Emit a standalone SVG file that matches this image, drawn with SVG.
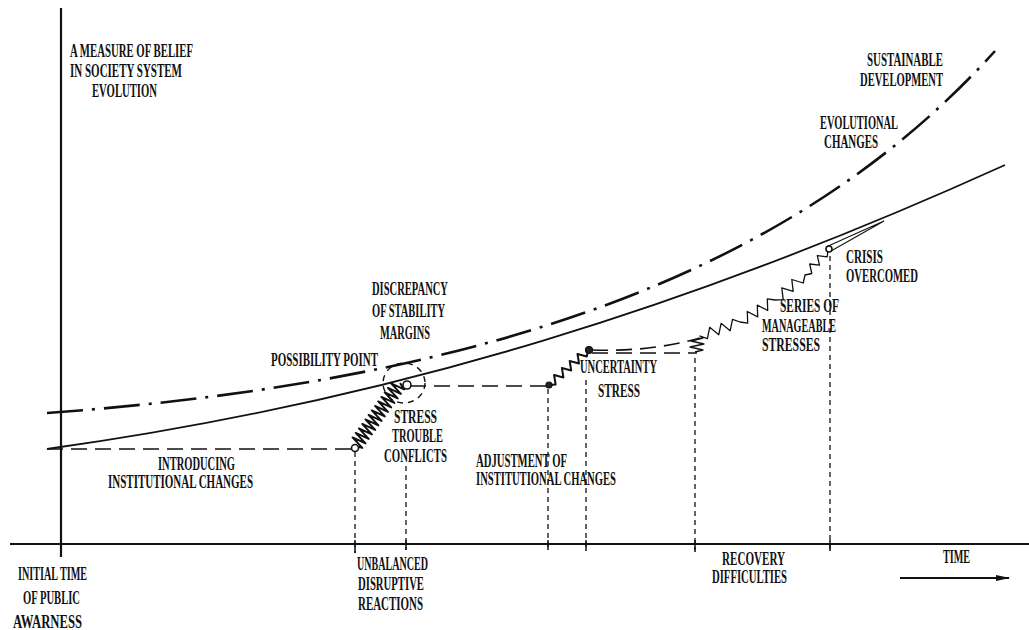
<svg xmlns="http://www.w3.org/2000/svg" width="1029" height="630" viewBox="0 0 1029 630">
<defs>
<style>
text{font-family:"Liberation Serif","DejaVu Serif",serif;font-weight:bold;font-size:18px;fill:#111;}
.ax{stroke:#111;stroke-width:2.2;fill:none;}
.solid{stroke:#111;stroke-width:1.8;fill:none;}
.dd{stroke:#111;stroke-width:2.6;fill:none;stroke-dasharray:36 9 3 9;}
.hd{stroke:#111;stroke-width:1.7;fill:none;stroke-dasharray:16 8;}
.vd{stroke:#111;stroke-width:1.3;fill:none;stroke-dasharray:5 4;}
.zz{stroke:#111;stroke-width:2;fill:none;stroke-linejoin:round;}
.zt{stroke:#111;stroke-width:1.3;fill:none;stroke-linejoin:round;}
.tick{stroke:#111;stroke-width:1.5;}
.oc{fill:#fff;stroke:#111;stroke-width:1.6;}
.fc{fill:#222;stroke:#111;stroke-width:1.2;}
</style>
<marker id="arr" markerWidth="14" markerHeight="6" refX="13" refY="3" orient="auto" markerUnits="userSpaceOnUse">
<path d="M0,0 L14,3 L0,6 Z" fill="#111"/>
</marker>
</defs>
<rect width="1029" height="630" fill="#fff"/>

<g id="axes">
<line class="ax" x1="61" y1="8" x2="61" y2="557"/>
<line class="ax" x1="10" y1="544" x2="1029" y2="544"/>
<line class="solid" x1="900" y1="578" x2="1009" y2="578" marker-end="url(#arr)"/>
</g>

<g id="curves">
<path id="evolutional-curve" class="solid" d="M47,449 C400,400 700,303 1005,165"/>
<path id="sustainable-curve" class="dd" d="M47,413 C500,380 800,267 995,51"/>
</g>

<g id="connectors">
<line class="hd" x1="47" y1="449" x2="352" y2="449"/>
<line class="hd" x1="410" y1="386" x2="546" y2="386" stroke-dasharray="14 7"/>
<path class="hd" d="M592,350 Q650,352 700,338" stroke-dasharray="9 6"/>
<line class="hd" x1="592" y1="353" x2="697" y2="353" stroke-dasharray="12 6"/>
<ellipse cx="404" cy="383" rx="21" ry="20" fill="none" stroke="#111" stroke-width="1.4" stroke-dasharray="6 5"/>
<line class="vd" x1="355" y1="452" x2="355" y2="553"/>
<line class="vd" x1="406" y1="466" x2="406" y2="550"/>
<line class="vd" x1="548" y1="389" x2="548" y2="550"/>
<line class="vd" x1="586" y1="380" x2="586" y2="550"/>
<line class="vd" x1="695" y1="358" x2="695" y2="550"/>
<line class="vd" x1="830" y1="256" x2="830" y2="550"/>
<line class="tick" x1="355" y1="540" x2="355" y2="553"/>
<line class="tick" x1="406" y1="540" x2="406" y2="550"/>
<line class="tick" x1="548" y1="540" x2="548" y2="550"/>
<line class="tick" x1="586" y1="540" x2="586" y2="551"/>
<line class="tick" x1="695" y1="540" x2="695" y2="552"/>
<line class="tick" x1="830" y1="540" x2="830" y2="551"/>
<polyline class="zz" points="355,446 362.3,447.9 352.5,437.4 365.5,443.4 355.7,432.9 368.7,438.9 358.9,428.4 371.9,434.4 362.2,423.9 375.2,429.9 365.4,419.4 378.4,425.4 368.6,414.9 381.6,420.9 371.8,410.4 384.8,416.4 375,405.9 388,411.9 378.2,401.4 391.2,407.4 381.4,396.9 394.4,402.9 384.7,392.4 397.7,398.4 387.9,387.9 400.9,393.9 391.1,383.4 404.1,389.4 400,383"/>
<polyline class="zz" points="549,385 555.6,384.5 554.1,375 563.4,377.5 561.9,368 571.2,370.5 569.7,361 579,363.5 577.5,354 586.8,356.5 588,350"/>
<polyline class="zt" points="695,352 703,350 690,347 704,344 691,341 703,338 700,336 707.4,338.7 709.7,327.3 718.8,334.7 721.1,323.3 730.2,330.7 732.5,319.3 740,322 747.7,323.1 747.3,311.5 757.7,316.8 757.3,305.2 767.7,310.5 767.3,298.9 775,300 783.2,299.6 781.8,287.9 793.2,291.3 791.8,279.5 803.2,283 805,275 811.8,273.5 809.7,264 819.5,265.2 817.3,255.6 827.2,256.9 828,250"/>
<path d="M826,247 L884,221 L831,251" fill="none" stroke="#111" stroke-width="1.1"/>
</g>

<g id="points">
<circle class="oc" cx="355" cy="448" r="3.5"/>
<circle class="oc" cx="407" cy="385" r="4"/>
<circle class="fc" cx="549" cy="385" r="3"/>
<circle class="fc" cx="589" cy="350" r="3.5"/>
<circle class="oc" cx="829" cy="249" r="3"/>
</g>

<g id="label-yaxis">
<text x="70" y="57" textLength="123" lengthAdjust="spacingAndGlyphs">A MEASURE OF BELIEF</text>
<text x="70" y="77" textLength="112" lengthAdjust="spacingAndGlyphs">IN SOCIETY SYSTEM</text>
<text x="92" y="97" textLength="65" lengthAdjust="spacingAndGlyphs">EVOLUTION</text>
</g>
<g id="label-sustainable">
<text x="867" y="66" textLength="76" lengthAdjust="spacingAndGlyphs">SUSTAINABLE</text>
<text x="860" y="86" textLength="83" lengthAdjust="spacingAndGlyphs">DEVELOPMENT</text>
</g>
<g id="label-evolutional">
<text x="820" y="129" textLength="78" lengthAdjust="spacingAndGlyphs">EVOLUTIONAL</text>
<text x="824" y="148" textLength="54" lengthAdjust="spacingAndGlyphs">CHANGES</text>
</g>
<g id="label-discrepancy">
<text x="372" y="295" textLength="76" lengthAdjust="spacingAndGlyphs">DISCREPANCY</text>
<text x="372" y="317" textLength="73" lengthAdjust="spacingAndGlyphs">OF STABILITY</text>
<text x="380" y="339" textLength="50" lengthAdjust="spacingAndGlyphs">MARGINS</text>
</g>
<g id="label-possibility">
<text x="271" y="366" textLength="107" lengthAdjust="spacingAndGlyphs">POSSIBILITY POINT</text>
</g>
<g id="label-stress">
<text x="394" y="423" textLength="43" lengthAdjust="spacingAndGlyphs">STRESS</text>
<text x="392" y="442" textLength="51" lengthAdjust="spacingAndGlyphs">TROUBLE</text>
<text x="384" y="462" textLength="63" lengthAdjust="spacingAndGlyphs">CONFLICTS</text>
</g>
<g id="label-introducing">
<text x="158" y="470" textLength="77" lengthAdjust="spacingAndGlyphs">INTRODUCING</text>
<text x="108" y="488" textLength="145" lengthAdjust="spacingAndGlyphs">INSTITUTIONAL CHANGES</text>
</g>
<g id="label-initial">
<text x="18" y="580" textLength="69" lengthAdjust="spacingAndGlyphs">INITIAL TIME</text>
<text x="23" y="604" textLength="57" lengthAdjust="spacingAndGlyphs">OF PUBLIC</text>
<text x="13" y="628" textLength="69" lengthAdjust="spacingAndGlyphs">AWARNESS</text>
</g>
<g id="label-unbalanced">
<text x="357" y="570" textLength="71" lengthAdjust="spacingAndGlyphs">UNBALANCED</text>
<text x="358" y="590" textLength="66" lengthAdjust="spacingAndGlyphs">DISRUPTIVE</text>
<text x="358" y="610" textLength="65" lengthAdjust="spacingAndGlyphs">REACTIONS</text>
</g>
<g id="label-uncertainty">
<text x="580" y="373" textLength="77" lengthAdjust="spacingAndGlyphs">UNCERTAINTY</text>
<text x="598" y="397" textLength="42" lengthAdjust="spacingAndGlyphs">STRESS</text>
</g>
<g id="label-adjustment">
<text x="476" y="467" textLength="91" lengthAdjust="spacingAndGlyphs">ADJUSTMENT OF</text>
<text x="476" y="485" textLength="140" lengthAdjust="spacingAndGlyphs">INSTITUTIONAL CHANGES</text>
</g>
<g id="label-series">
<text x="780" y="312" textLength="59" lengthAdjust="spacingAndGlyphs">SERIES OF</text>
<text x="762" y="332" textLength="74" lengthAdjust="spacingAndGlyphs">MANAGEABLE</text>
<text x="762" y="351" textLength="58" lengthAdjust="spacingAndGlyphs">STRESSES</text>
</g>
<g id="label-crisis">
<text x="846" y="263" textLength="37" lengthAdjust="spacingAndGlyphs">CRISIS</text>
<text x="846" y="282" textLength="72" lengthAdjust="spacingAndGlyphs">OVERCOMED</text>
</g>
<g id="label-recovery">
<text x="722" y="565" textLength="63" lengthAdjust="spacingAndGlyphs">RECOVERY</text>
<text x="712" y="583" textLength="75" lengthAdjust="spacingAndGlyphs">DIFFICULTIES</text>
</g>
<g id="label-time">
<text x="943" y="563" textLength="27" lengthAdjust="spacingAndGlyphs">TIME</text>
</g>
</svg>
